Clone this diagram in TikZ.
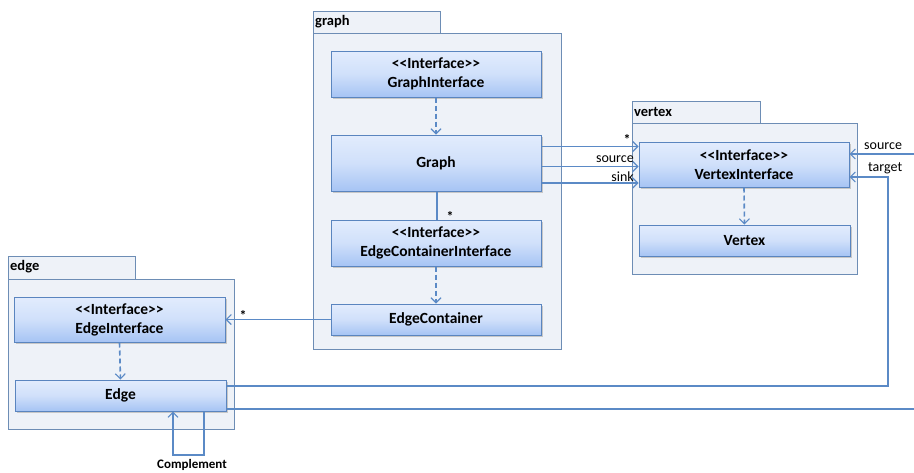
\documentclass[tikz,border=0pt]{standalone}
\usepackage{fontspec}
\setmainfont{Carlito}
\usetikzlibrary{arrows.meta,calc}
\definecolor{lineblue}{HTML}{5B8AC6}
\definecolor{boxedge}{HTML}{5A85BF}
\definecolor{boxtop}{HTML}{E2ECFD}
\definecolor{boxbot}{HTML}{A6C4F4}
\definecolor{pkgfill}{HTML}{EEF2F8}
\definecolor{pkgedge}{HTML}{6D8DB5}
\tikzset{
  cls/.style={draw=boxedge, line width=1pt, top color=boxtop, bottom color=boxbot,
    middle color=boxtop!70!boxbot, minimum width=210pt, align=center,
    font=\fontsize{15.5}{19}\selectfont\bfseries, inner sep=0pt},
  pkgbody/.style={draw=pkgedge, fill=pkgfill, line width=1pt},
  pkgname/.style={font=\fontsize{14.5}{16}\selectfont\bfseries, anchor=west, inner sep=0pt},
  conn/.style={draw=lineblue, line width=1.4pt},
  opentip/.style={-{Straight Barb[length=5pt,width=10pt,line width=1.1pt]}},
  realize/.style={conn, line width=1.6pt, dash pattern=on 5pt off 3pt, opentip},
  lbl/.style={font=\fontsize{14}{16}\selectfont, inner sep=0pt},
  star/.style={font=\fontsize{14}{16}\selectfont\bfseries, inner sep=0pt},
}
\newcommand{\stereo}{<{}<Interface>{}>}
\begin{document}
\begin{tikzpicture}[x=1pt,y=-1pt]
\useasboundingbox (0,0) rectangle (914,472);

% ---- package: graph
\draw[pkgbody] (313,11) rectangle (440,33);
\draw[pkgbody] (313,33) rectangle (561,349);
\node[pkgname] (pgraph) at (315,22) {graph};

% ---- package: vertex
\draw[pkgbody] (632,101) rectangle (760,123);
\draw[pkgbody] (632,123) rectangle (857,274);
\node[pkgname] (pvertex) at (634,112) {vertex};

% ---- package: edge
\draw[pkgbody] (8,256) rectangle (135,279);
\draw[pkgbody] (8,279) rectangle (234,429);
\node[pkgname] (pedge) at (10,267) {edge};

% ---- classes (with a soft shadow)
\foreach \x/\y/\w/\h in {436/74/210/46, 436/163/210/56, 436/243/210/46, 436/319.5/210/31,
                         744/164.5/210/45, 744.5/240.5/211/31, 119.5/319.5/211/45, 120.5/395.5/211/31}{
  \fill[black!22] (\x-\w/2+2,\y-\h/2+2) rectangle (\x+\w/2+2,\y+\h/2+2);
}
\node[cls, minimum height=46pt] (gi) at (436,74) {\stereo\\GraphInterface};
\node[cls, minimum height=56pt] (g) at (436,163) {Graph};
\node[cls, minimum height=46pt] (eci) at (436,243) {\stereo\\EdgeContainerInterface};
\node[cls, minimum height=31pt] (ec) at (436,319.5) {EdgeContainer};
\node[cls, minimum height=45pt] (vi) at (744,164.5) {\stereo\\VertexInterface};
\node[cls, minimum height=31pt, minimum width=211pt] (v) at (744.5,240.5) {Vertex};
\node[cls, minimum height=45pt, minimum width=211pt] (ei) at (119.5,319.5) {\stereo\\EdgeInterface};
\node[cls, minimum height=31pt, minimum width=211pt] (e) at (120.5,395.5) {Edge};

% ---- realizations
\draw[realize] (gi.south) -- (g.north);
\draw[realize] (eci.south) -- (ec.north);
\draw[realize] (vi.south) -- (v.north);
\draw[realize] (ei.south) -- (e.north);

% ---- associations Graph -> VertexInterface
\draw[conn, opentip] (g.east |- 0,146.5) -- (vi.west |- 0,146.5);
\draw[conn, opentip] (g.east |- 0,166.5) -- (vi.west |- 0,166.5);
\draw[conn, opentip] (g.east |- 0,183) -- (vi.west |- 0,183);
\node[star] (s1) at (627,139) {*};
\node[lbl, anchor=east] (lsrc) at (634,159) {source};
\node[lbl, anchor=east] (lsink) at (634,177) {sink};

% ---- Graph -> EdgeContainerInterface
\draw[conn] (g.south -| 437,0) -- (eci.north -| 437,0);
\node[star] (s2) at (450,216) {*};

% ---- EdgeContainer -> EdgeInterface
\draw[conn, opentip] (ec.west) -- (ei.east |- ec.west);
\node[star] (s3) at (243,315) {*};

% ---- Edge -> VertexInterface (source / target)
\coordinate (srcin) at (914,154);
\coordinate (tgtcorner) at (888,177);
\coordinate (tgtlow) at (888,386);
\coordinate (srcout) at (914,409);
\draw[conn, opentip] (srcin) -- (vi.east |- srcin);
\draw[conn, opentip] (e.east |- tgtlow) -- (tgtlow) -- (tgtcorner) -- (vi.east |- tgtcorner);
\draw[conn] (e.east |- srcout) -- (srcout);
\node[lbl, anchor=west] (lsrc2) at (864,146) {source};
\node[lbl, anchor=west] (ltgt) at (868,168) {target};

% ---- Complement self association
\coordinate (c1) at (204,455);
\coordinate (c2) at (173,455);
\draw[conn, opentip] (e.south -| c1) -- (c1) -- (c2) -- (e.south -| c2);
\node[font=\fontsize{13}{15}\selectfont\bfseries, inner sep=0pt] (lcomp) at (192,465) {Complement};
\end{tikzpicture}
\end{document}
